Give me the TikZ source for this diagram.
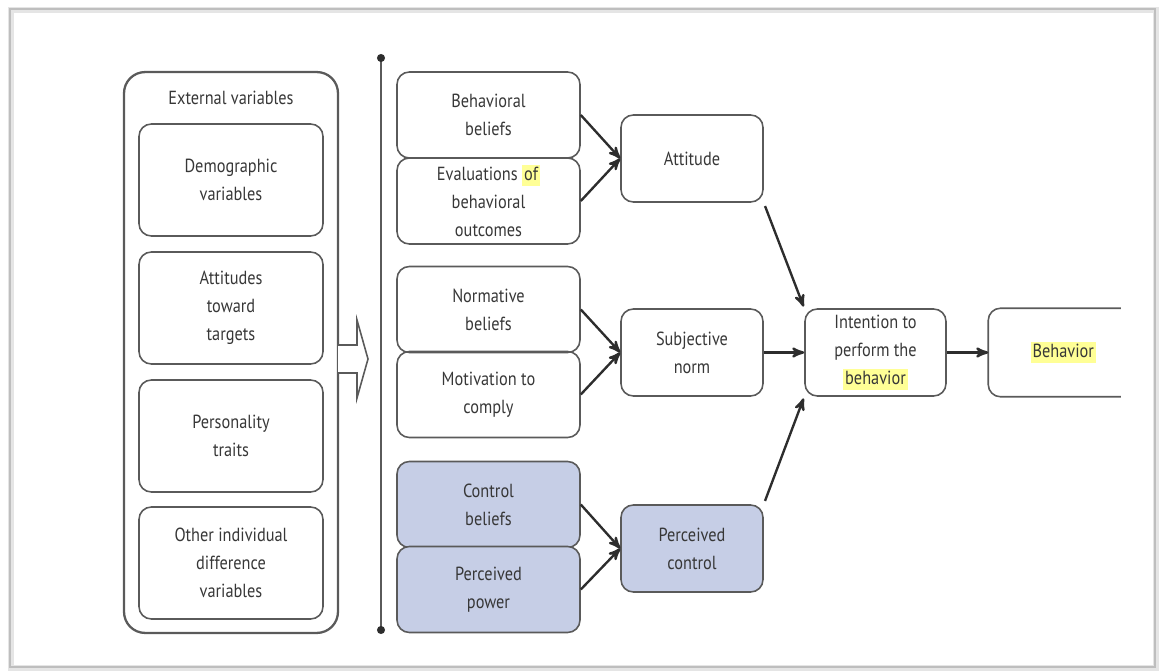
\documentclass[tikz,border=0pt]{standalone}
\usepackage{fontspec}
\setmainfont{PT Sans}[FakeStretch=0.86]
\usepackage{tikz}
\usetikzlibrary{calc, shapes, arrows}
\definecolor{boxgray}{RGB}{90,90,90}
\definecolor{arrgray}{RGB}{45,45,45}
\definecolor{txtgray}{RGB}{55,55,55}
\definecolor{ctrlblue}{RGB}{198,206,230}
\definecolor{hlyellow}{RGB}{255,255,150}
\definecolor{framegray}{RGB}{190,190,190}
\newcommand{\hlt}[1]{{\setlength{\fboxsep}{1.2pt}\colorbox{hlyellow}{\vphantom{Bp}#1}}}

\begin{document}
\begin{tikzpicture}[x=0.02cm,y=-0.02cm]
\tikzstyle{varbox}=[draw=boxgray,line width=0.9pt,rounded corners=7pt,align=center,text=txtgray,font=\fontsize{10.8}{16}\selectfont,inner sep=0pt]
\tikzstyle{extbox}=[varbox,minimum width=3.68cm,minimum height=2.24cm]
\tikzstyle{midbox}=[varbox,minimum width=3.66cm,minimum height=1.72cm]
\tikzstyle{sumbox}=[varbox,minimum width=2.84cm,minimum height=1.74cm]
\tikzstyle{ctrlbox}=[fill=ctrlblue]
\tikzstyle{link}=[-stealth',line width=1.35pt,draw=arrgray]
\useasboundingbox (0,0) rectangle (1159,671);
% page frame
\draw[framegray!40,line width=3pt] (11,10) rectangle (1156,668);
\draw[framegray,line width=0.8pt] (10,9) rectangle (1155,667);
% external variables
\node[varbox,line width=1.3pt,rounded corners=12pt,minimum width=4.28cm,minimum height=11.22cm] (ext) at (231,352.5) {};
\node[varbox,draw=none] (ext_t) at (231,98) {External variables};
\node[extbox] (E_1) at (231,180) {Demographic\\variables};
\node[extbox] (E_2) at (231,308) {Attitudes\\toward\\targets};
\node[extbox] (E_3) at (231,436) {Personality\\traits};
\node[extbox] (E_4) at (231,563) {Other individual\\difference\\variables};
\draw[line width=0.9pt,draw=boxgray,fill=white] (338,345) -- (357,345) -- (357,320) -- (368,359) -- (357,398) -- (357,373) -- (338,373);
\coordinate (v_top) at (381,58);
\coordinate (v_bot) at (381,630);
\draw[line width=0.9pt,draw=boxgray] (v_top) -- (v_bot);
\fill[arrgray] (v_top) circle (2.3pt);
\fill[arrgray] (v_bot) circle (2.3pt);
% beliefs
\node[midbox] (B_1) at (488.5,115) {Behavioral\\beliefs};
\node[midbox] (B_2) at (488.5,201) {Evaluations \hlt{of}\\behavioral\\outcomes};
\node[midbox] (N_1) at (488.5,309.5) {Normative\\beliefs};
\node[midbox] (N_2) at (488.5,394.5) {Motivation to\\comply};
\node[midbox,ctrlbox] (C_1) at (488.5,504.5) {Control\\beliefs};
\node[midbox,ctrlbox] (C_2) at (488.5,589.5) {Perceived\\power};
% determinants
\node[sumbox] (att) at (692,158.5) {Attitude};
\node[sumbox] (sn) at (692,352.5) {Subjective\\norm};
\node[sumbox,ctrlbox] (pc) at (692,548.5) {Perceived\\control};
\node[sumbox,minimum width=2.82cm] (int) at (875.5,352.5) {Intention to\\perform the\\\hlt{behavior}};
\node[sumbox,draw=none,minimum width=2.62cm] (beh) at (1054.5,352.5) {\hspace{10pt}\hlt{Behavior}};
\draw[draw=boxgray,line width=0.9pt,rounded corners=7pt] (beh.north east) -- (beh.north west) -- (beh.south west) -- (beh.south east);
% arrows
\draw[link] (B_1.east) -- (att.west);
\draw[link] (B_2.east) -- (att.west);
\draw[link] (N_1.east) -- (sn.west);
\draw[link] (N_2.east) -- (sn.west);
\draw[link] (C_1.east) -- (pc.west);
\draw[link] (C_2.east) -- (pc.west);
\draw[link,shorten <=2pt,shorten >=1pt] (att.south east) -- (int.north west);
\draw[link] (sn.east) -- (int.west);
\draw[link,shorten <=2pt,shorten >=1pt] (pc.north east) -- (int.south west);
\draw[link] (int.east) -- (beh.west);
\end{tikzpicture}
\end{document}
